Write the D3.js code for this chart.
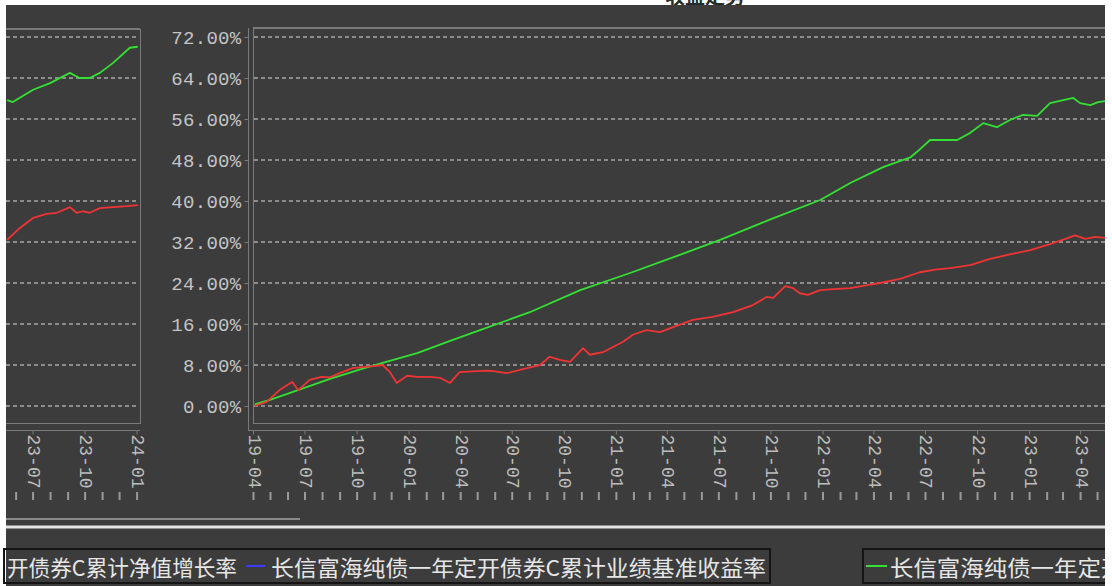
<!DOCTYPE html>
<html><head><meta charset="utf-8">
<script src="https://cdn.jsdelivr.net/npm/d3@7"></script>
<style>body{margin:0;background:#fff}svg{display:block}</style>
</head><body>
<svg id="c" width="1112" height="586"></svg>
<script>
const titleText = "收益走势";
const legendText1 = "开债券C累计净值增长率";
const legendText2 = "长信富海纯债一年定开债券C累计业绩基准收益率";
const legendText3 = "长信富海纯债一年定开债券C累计业绩基准收益率";
const yTicks = [0, 8, 16, 24, 32, 40, 48, 56, 64, 72];
const mainTickDates = ["2019-04-01","2019-07-01","2019-10-01","2020-01-01","2020-04-01","2020-07-01","2020-10-01","2021-01-01","2021-04-01","2021-07-01","2021-10-01","2022-01-01","2022-04-01","2022-07-01","2022-10-01","2023-01-01","2023-04-01"];
const sideTickDates = ["2023-07-01","2023-10-01","2024-01-01"];

const navDates = ["2019-04-04","2019-04-25","2019-05-18","2019-06-09","2019-06-20","2019-07-10","2019-07-31","2019-08-15","2019-09-01","2019-09-24","2019-10-30","2019-11-16","2019-11-29","2019-12-11","2019-12-29","2020-01-16","2020-02-08","2020-02-25","2020-03-14","2020-03-31","2020-04-30","2020-05-23","2020-06-22","2020-07-28","2020-08-20","2020-09-06","2020-09-24","2020-10-12","2020-11-04","2020-11-16","2020-12-09","2021-01-13","2021-01-31","2021-02-24","2021-03-20","2021-04-12","2021-05-17","2021-06-21","2021-07-27","2021-08-31","2021-09-25","2021-10-06","2021-10-27","2021-11-10","2021-11-22","2021-12-06","2021-12-28","2022-01-20","2022-02-19","2022-03-21","2022-04-13","2022-05-18","2022-06-22","2022-07-19","2022-08-14","2022-09-19","2022-10-24","2022-11-28","2023-01-03","2023-02-07","2023-03-06","2023-03-23","2023-04-10","2023-04-28","2023-05-15"];
const navValues = [0.0,0.8,3.1,4.7,3.1,5.1,5.7,5.6,6.4,7.4,7.8,8.0,6.6,4.5,5.9,5.7,5.7,5.5,4.5,6.6,6.8,6.9,6.4,7.4,8.0,9.6,9.0,8.6,11.3,10.0,10.5,12.5,13.9,14.8,14.4,15.4,16.8,17.4,18.3,19.7,21.3,21.1,23.4,23.0,22.0,21.7,22.6,22.8,23.0,23.6,24.0,24.8,26.1,26.6,26.9,27.5,28.7,29.6,30.4,31.6,32.6,33.3,32.6,33.0,32.8];

const benchDates = ["2019-04-04","2019-05-01","2019-06-17","2019-08-15","2019-10-12","2019-11-16","2020-01-16","2020-03-19","2020-05-06","2020-08-02","2020-10-30","2021-01-25","2021-04-24","2021-07-04","2021-10-01","2021-12-28","2022-02-19","2022-04-18","2022-06-05","2022-06-17","2022-07-10","2022-08-27","2022-09-19","2022-10-12","2022-11-05","2022-11-28","2022-12-21","2023-01-15","2023-02-07","2023-03-02","2023-03-20","2023-04-01","2023-04-19","2023-05-03","2023-05-15"];
const benchValues = [0.3,1.2,3.0,5.3,7.3,8.4,10.3,12.9,14.8,18.3,22.6,25.9,29.5,32.4,36.4,40.2,43.5,46.6,48.5,49.6,51.9,51.9,53.3,55.2,54.4,55.8,56.8,56.6,59.1,59.7,60.1,59.1,58.7,59.3,59.5];

const sideNavDates = ["2023-05-17","2023-06-08","2023-07-02","2023-07-26","2023-08-13","2023-09-05","2023-09-17","2023-09-28","2023-10-10","2023-10-28","2023-11-20","2023-12-15","2024-01-03"];
const sideNavValues = [32.4,34.7,36.7,37.5,37.7,38.8,37.7,38.0,37.7,38.6,38.8,39.0,39.2];
const sideBenchDates = ["2023-05-17","2023-05-27","2023-07-02","2023-08-01","2023-09-05","2023-09-22","2023-10-10","2023-10-28","2023-11-20","2023-12-20","2024-01-03"];
const sideBenchValues = [59.7,59.3,61.7,63.0,65.0,64.0,64.0,65.0,66.9,69.9,70.1];

const parse = d3.timeParse("%Y-%m-%d");
const svg = d3.select("#c");
const W = 1112, H = 586;

// white canvas + clipped title
svg.append("rect").attr("width", W).attr("height", H).attr("fill", "#ffffff");
svg.append("text").attr("x", 705).attr("y", 4).attr("text-anchor", "middle")
  .attr("font-family", "Noto Sans CJK SC").attr("font-size", 20).attr("font-weight", "bold")
  .attr("fill", "#2a2a2a").text(titleText);
svg.append("rect").attr("x", 6).attr("y", 5).attr("width", 1099).attr("height", H - 5).attr("fill", "#3c3c3c");

const y = d3.scaleLinear().domain([0, 72]).range([406, 37]);
const xMain = d3.scaleTime().domain([parse("2019-04-01"), parse("2023-05-15")]).range([253, 1105]);
const xSide = d3.scaleTime().domain([parse("2023-05-15"), parse("2024-01-07")]).range([6, 140]);

const frame = "#7a7a7a";
const gridColor = "#dcdcdc";

// gridlines
function grid(x0, x1) {
  svg.append("g").selectAll("line").data(yTicks).join("line")
    .attr("x1", x0).attr("x2", x1).attr("y1", d => y(d)).attr("y2", d => y(d))
    .attr("stroke", gridColor).attr("stroke-width", 1).attr("stroke-dasharray", "4,3");
}
grid(254, 1105);
grid(6, 139);

// frames
const fr = svg.append("g").attr("stroke", frame).attr("fill", "none");
fr.append("line").attr("x1", 253).attr("x2", 1105).attr("y1", 28).attr("y2", 28).attr("stroke-width", 2);
fr.append("line").attr("x1", 253.5).attr("x2", 253.5).attr("y1", 28).attr("y2", 423);
fr.append("line").attr("x1", 253).attr("x2", 1105).attr("y1", 423.5).attr("y2", 423.5);
fr.append("line").attr("x1", 6).attr("x2", 140).attr("y1", 29).attr("y2", 29).attr("stroke-width", 2);
fr.append("line").attr("x1", 140.5).attr("x2", 140.5).attr("y1", 29).attr("y2", 424);
fr.append("line").attr("x1", 6).attr("x2", 140).attr("y1", 423.5).attr("y2", 423.5);

// y axis
const yAxis = d3.axisLeft(y).tickValues(yTicks).tickSize(4).tickPadding(3)
  .tickFormat(d => d3.format(".2f")(d) + "%");
const gy = svg.append("g").attr("transform", "translate(248.5,0)").call(yAxis);
gy.select(".domain").attr("stroke", frame).attr("d", "M0,28V430");
gy.selectAll(".tick line").attr("stroke", frame);
gy.selectAll(".tick text").attr("font-family", "Liberation Mono").attr("font-size", 19)
  .attr("fill", "#c4c4c4").attr("letter-spacing", 0.3);

// x axes
function xAxis(scale, ticks, x0, x1, yy) {
  const ax = d3.axisBottom(scale).tickValues(ticks.map(parse)).tickSize(4).tickFormat(d3.timeFormat("%y-%m"));
  const g = svg.append("g").attr("transform", `translate(0,${yy})`).call(ax);
  g.select(".domain").attr("stroke", frame).attr("d", `M${x0},0H${x1}`);
  g.selectAll(".tick line").attr("stroke", frame);
  g.selectAll(".tick text").attr("font-family", "Liberation Mono").attr("font-size", 18)
    .attr("fill", "#bdbdbd").attr("text-anchor", "start").attr("dominant-baseline", "central")
    .attr("transform", "translate(0,4) rotate(90)").attr("x", 0).attr("y", 0).attr("dy", null);
}
xAxis(xMain, mainTickDates, 248, 1105, 430.5);
xAxis(xSide, sideTickDates, 6, 140, 430.5);

// monthly minor tick row
function monthTicks(scale) {
  const ax = d3.axisBottom(scale).ticks(d3.timeMonth.every(1)).tickSize(8).tickFormat("");
  const g = svg.append("g").attr("transform", "translate(0,492)").call(ax);
  g.select(".domain").remove();
  g.selectAll(".tick line").attr("stroke", "#9a9a9a").attr("stroke-width", 2);
}
monthTicks(xMain);
monthTicks(xSide);

// lower rules
svg.append("line").attr("x1", 6).attr("x2", 300).attr("y1", 519).attr("y2", 519).attr("stroke", "#8a8a8a").attr("stroke-width", 2);
svg.append("line").attr("x1", 6).attr("x2", 1105).attr("y1", 527).attr("y2", 527).attr("stroke", "#e4e4e4").attr("stroke-width", 3);

// series
function drawLine(scale, dates, vals, color) {
  const data = dates.map((d, i) => ({ d: parse(d), v: vals[i] }));
  const line = d3.line().x(p => scale(p.d)).y(p => y(p.v));
  svg.append("path").datum(data).attr("d", line).attr("fill", "none")
    .attr("stroke", color).attr("stroke-width", 1.8).attr("stroke-linejoin", "round");
}
drawLine(xMain, benchDates, benchValues, "#33e033");
drawLine(xMain, navDates, navValues, "#f03434");
drawLine(xSide, sideBenchDates, sideBenchValues, "#33e033");
drawLine(xSide, sideNavDates, sideNavValues, "#f03434");

// legends
const lg = svg.append("g");
lg.append("rect").attr("x", 4).attr("y", 549).attr("width", 766).attr("height", 34)
  .attr("fill", "none").attr("stroke", "#151515").attr("stroke-width", 2);
lg.append("text").attr("x", 7).attr("y", 576).attr("font-family", "Noto Sans CJK SC").attr("font-size", 22)
  .attr("fill", "#e6e6e6").attr("textLength", 230).attr("lengthAdjust", "spacingAndGlyphs").text(legendText1);
lg.append("line").attr("x1", 246).attr("x2", 265).attr("y1", 566).attr("y2", 566).attr("stroke", "#3a3aff").attr("stroke-width", 2);
lg.append("text").attr("x", 271).attr("y", 576).attr("font-family", "Noto Sans CJK SC").attr("font-size", 22)
  .attr("fill", "#e6e6e6").attr("textLength", 495).attr("lengthAdjust", "spacingAndGlyphs").text(legendText2);
lg.append("rect").attr("x", 863).attr("y", 549).attr("width", 300).attr("height", 34)
  .attr("fill", "none").attr("stroke", "#151515").attr("stroke-width", 2);
lg.append("line").attr("x1", 866).attr("x2", 887).attr("y1", 566).attr("y2", 566).attr("stroke", "#33e033").attr("stroke-width", 2);
lg.append("text").attr("x", 890).attr("y", 576).attr("font-family", "Noto Sans CJK SC").attr("font-size", 22)
  .attr("fill", "#e6e6e6").attr("textLength", 507).attr("lengthAdjust", "spacingAndGlyphs").text(legendText3);

// right white edge
svg.append("rect").attr("x", 1105).attr("y", 0).attr("width", 7).attr("height", H).attr("fill", "#ffffff");
</script>
</body></html>
